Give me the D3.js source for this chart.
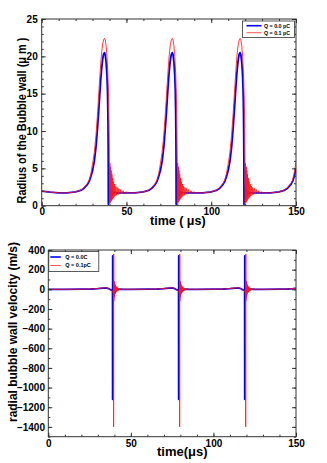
<!DOCTYPE html>
<html><head><meta charset="utf-8">
<script src="https://cdn.jsdelivr.net/npm/d3@7"></script>
<style>
body{margin:0;background:#fff}
svg{display:block}
text{font-family:"Liberation Sans",Arial,Helvetica,sans-serif;font-weight:bold;fill:#000}
</style>
</head><body>
<svg id="c" width="327" height="463"></svg>
<script>
// ---------- Top panel: radius of the bubble wall (µm) ----------
const radiusTimeQ00 = [
  0,5,10,15,20,23,25,27,28,29,30,31,32,33,34,34.5,35,35.5,36,36.5,37,37.5,38,38.5,38.8,39.0,39.15,39.25,39.32,
  39.4,39.5,39.65,39.8,40.0,40.2,40.45,40.7,41.0,41.4,41.8,42.3,43,44,46,
  50,55,60,63,65,67,68,69,70,71,72,73,74,74.5,75,75.5,76,76.5,77,77.5,78,78.5,78.8,79.0,79.15,79.25,79.32,
  79.4,79.5,79.65,79.8,80.0,80.2,80.45,80.7,81.0,81.4,81.8,82.3,83,84,86,
  90,95,100,103,105,107,108,109,110,111,112,113,114,114.5,115,115.5,116,116.5,117,117.5,118,118.5,118.8,119.0,119.15,119.25,119.32,
  119.4,119.5,119.65,119.8,120.0,120.2,120.45,120.7,121.0,121.4,121.8,122.3,123,124,126,
  130,135,140,143,145,147,148,149,150
];
const radiusQ00 = [
  1.95,1.82,1.72,1.72,1.84,2.05,2.35,2.85,3.25,3.9,4.7,5.9,7.8,10.6,14.0,15.8,17.4,18.7,19.7,20.3,20.5,20.2,19.2,17.4,15.4,13.0,10.0,6.5,0.2,
  2.8,0.6,2.5,0.8,2.3,1.0,2.1,1.2,2.0,1.4,1.9,1.55,1.8,1.7,1.74,
  1.72,1.72,1.84,2.05,2.35,2.85,3.25,3.9,4.7,5.9,7.8,10.6,14.0,15.8,17.4,18.7,19.7,20.3,20.5,20.2,19.2,17.4,15.4,13.0,10.0,6.5,0.2,
  2.8,0.6,2.5,0.8,2.3,1.0,2.1,1.2,2.0,1.4,1.9,1.55,1.8,1.7,1.74,
  1.72,1.72,1.84,2.05,2.35,2.85,3.25,3.9,4.7,5.9,7.8,10.6,14.0,15.8,17.4,18.7,19.7,20.3,20.5,20.2,19.2,17.4,15.4,13.0,10.0,6.5,0.2,
  2.8,0.6,2.5,0.8,2.3,1.0,2.1,1.2,2.0,1.4,1.9,1.55,1.8,1.7,1.74,
  1.72,1.72,1.84,2.05,2.35,2.85,3.25,3.9,5.0
];
const radiusTimeQ01 = [
  0,5,10,15,20,23,25,27,28,29,30,31,32,33,34,34.5,35,35.5,36,36.5,37,37.5,38,38.5,39,39.4,39.7,39.85,39.95,40.0,
  40.2,40.4,40.6,40.8,41.0,41.2,41.4,41.65,41.9,42.15,42.4,42.7,43.0,43.35,43.7,44.1,44.5,45.0,45.5,46.0,46.6,47.3,48.0,48.8,49.6,
  51,55,60,63,65,67,68,69,70,71,72,73,74,74.5,75,75.5,76,76.5,77,77.5,78,78.5,79,79.4,79.7,79.85,79.95,80.0,
  80.2,80.4,80.6,80.8,81.0,81.2,81.4,81.65,81.9,82.15,82.4,82.7,83.0,83.35,83.7,84.1,84.5,85.0,85.5,86.0,86.6,87.3,88.0,88.8,89.6,
  91,95,100,103,105,107,108,109,110,111,112,113,114,114.5,115,115.5,116,116.5,117,117.5,118,118.5,119,119.4,119.7,119.85,119.95,120.0,
  120.2,120.4,120.6,120.8,121.0,121.2,121.4,121.65,121.9,122.15,122.4,122.7,123.0,123.35,123.7,124.1,124.5,125.0,125.5,126.0,126.6,127.3,128.0,128.8,129.6,
  131,135,140,143,145,147,148,149,150
];
const radiusQ01 = [
  1.95,1.82,1.72,1.72,1.85,2.08,2.42,2.98,3.45,4.3,5.6,7.1,9.4,12.6,16.2,18.0,19.6,20.8,21.7,22.2,22.4,22.2,21.4,20.0,17.8,15.0,11.5,8.5,5.0,0.3,
  5.7,0.4,5.2,0.55,4.7,0.7,4.2,0.85,3.7,1.0,3.2,1.15,2.9,1.3,2.6,1.4,2.45,1.5,2.3,1.55,2.15,1.6,2.0,1.65,1.85,
  1.72,1.72,1.85,2.08,2.42,2.98,3.45,4.3,5.6,7.1,9.4,12.6,16.2,18.0,19.6,20.8,21.7,22.2,22.4,22.2,21.4,20.0,17.8,15.0,11.5,8.5,5.0,0.3,
  5.7,0.4,5.2,0.55,4.7,0.7,4.2,0.85,3.7,1.0,3.2,1.15,2.9,1.3,2.6,1.4,2.45,1.5,2.3,1.55,2.15,1.6,2.0,1.65,1.85,
  1.72,1.72,1.85,2.08,2.42,2.98,3.45,4.3,5.6,7.1,9.4,12.6,16.2,18.0,19.6,20.8,21.7,22.2,22.4,22.2,21.4,20.0,17.8,15.0,11.5,8.5,5.0,0.3,
  5.7,0.4,5.2,0.55,4.7,0.7,4.2,0.85,3.7,1.0,3.2,1.15,2.9,1.3,2.6,1.4,2.45,1.5,2.3,1.55,2.15,1.6,2.0,1.65,1.85,
  1.72,1.72,1.85,2.08,2.42,2.98,3.45,4.5,5.8
];
const radiusXTicks = [0,50,100,150];
const radiusYTicks = [0,5,10,15,20,25];
const radiusLegend = ["Q = 0.0 pC","Q = 0.1 pC"];

// ---------- Bottom panel: radial bubble wall velocity (m/s) ----------
const velTimeQ00 = [
  0,10,20,26,30,33,35,36.5,37.5,38.3,38.9,38.95,39.0,39.05,39.15,39.25,39.35,39.4,39.45,39.5,39.6,39.7,39.8,39.9,40.0,40.15,40.3,40.45,40.6,40.8,41.0,41.25,41.5,41.8,42.1,42.5,43.0,43.6,44.3,45.2,50,
  60,66,70,73,75,76.5,77.5,78.3,78.9,78.95,79.0,79.05,79.15,79.25,79.35,79.4,79.45,79.5,79.6,79.7,79.8,79.9,80.0,80.15,80.3,80.45,80.6,80.8,81.0,81.25,81.5,81.8,82.1,82.5,83.0,83.6,84.3,85.2,90,
  100,106,110,113,115,116.5,117.5,118.3,118.9,118.95,119.0,119.05,119.15,119.25,119.35,119.4,119.45,119.5,119.6,119.7,119.8,119.9,120.0,120.15,120.3,120.45,120.6,120.8,121.0,121.25,121.5,121.8,122.1,122.5,123.0,123.6,124.3,125.2,130,
  140,145,148,150
];
const velQ00 = [
  0,0,1,3,7,12,14,8,-3,-8,-15,-1120,340,-160,90,-100,75,-80,65,-60,55,-45,40,-35,30,-25,22,-18,15,-12,10,-8,6,-5,4,-3,2,-1,1,0,0,
  1,3,7,12,14,8,-3,-8,-15,-1120,340,-160,90,-100,75,-80,65,-60,55,-45,40,-35,30,-25,22,-18,15,-12,10,-8,6,-5,4,-3,2,-1,1,0,0,
  1,3,7,12,14,8,-3,-8,-15,-1120,340,-160,90,-100,75,-80,65,-60,55,-45,40,-35,30,-25,22,-18,15,-12,10,-8,6,-5,4,-3,2,-1,1,0,0,
  1,3,6,9
];
const velTimeQ01 = [
  0,10,20,26,30,33,35,36.5,37.5,38.3,38.9,39.1,39.3,39.45,39.55,39.6,39.7,39.8,39.9,40.0,40.1,40.25,40.4,40.55,40.7,40.9,41.1,41.35,41.6,41.9,42.2,42.6,43.0,43.5,44.0,44.6,45.3,46.2,50,
  60,66,70,73,75,76.5,77.5,78.3,78.9,79.1,79.3,79.45,79.55,79.6,79.7,79.8,79.9,80.0,80.1,80.25,80.4,80.55,80.7,80.9,81.1,81.35,81.6,81.9,82.2,82.6,83.0,83.5,84.0,84.6,85.3,86.2,90,
  100,106,110,113,115,116.5,117.5,118.3,118.9,119.1,119.3,119.45,119.55,119.6,119.7,119.8,119.9,120.0,120.1,120.25,120.4,120.55,120.7,120.9,121.1,121.35,121.6,121.9,122.2,122.6,123.0,123.5,124.0,124.6,125.3,126.2,130,
  140,145,148,150
];
const velQ01 = [
  0,0,1,3,8,14,16,9,-3,-9,-16,-25,-40,-70,-1400,360,-120,85,-80,70,-65,55,-50,45,-40,35,-30,25,-20,16,-13,10,-8,6,-4,3,-2,1,0,
  1,3,8,14,16,9,-3,-9,-16,-25,-40,-70,-1400,360,-120,85,-80,70,-65,55,-50,45,-40,35,-30,25,-20,16,-13,10,-8,6,-4,3,-2,1,0,
  1,3,8,14,16,9,-3,-9,-16,-25,-40,-70,-1400,360,-120,85,-80,70,-65,55,-50,45,-40,35,-30,25,-20,16,-13,10,-8,6,-4,3,-2,1,0,
  1,3,7,10
];
const velXTicks = [0,50,100,150];
const velYTicks = [400,200,0,-200,-400,-600,-800,-1000,-1200,-1400];
const velLegend = ["Q = 0.0C","Q = 0.1pC"];

const BLUE = "#0000ff", RED = "#ff1a1a", AXIS = "#333";
const svg = d3.select("#c");

function panel(o) {
  const x = d3.scaleLinear().domain(o.xDomain).range([o.left, o.right]);
  const y = d3.scaleLinear().domain(o.yDomain).range([o.bottom, o.top]);
  const g = svg.append("g");
  const id = "clip" + o.name;
  svg.append("clipPath").attr("id", id).append("rect")
    .attr("x", o.left).attr("y", o.top).attr("width", o.right - o.left).attr("height", o.bottom - o.top);

  const line = d3.line().x(d => x(d[0])).y(d => y(d[1]));
  const plot = g.append("g").attr("clip-path", `url(#${id})`);
  plot.append("path").datum(d3.zip(o.t1, o.s1)).attr("d", line)
    .attr("fill", "none").attr("stroke", BLUE).attr("stroke-width", 1.8).attr("stroke-linejoin", "round");
  plot.append("path").datum(d3.zip(o.t2, o.s2)).attr("d", line)
    .attr("fill", "none").attr("stroke", RED).attr("stroke-width", 1).attr("stroke-opacity", 0.85).attr("stroke-linejoin", "round");

  const styleAxis = sel => { sel.select(".domain").remove(); sel.selectAll("line").attr("stroke", AXIS); };
  const minorX = d3.range(o.xDomain[0], o.xDomain[1] + 1e-9, o.xMinor);
  const minorY = d3.range(o.yDomain[0], o.yDomain[1] + 1e-9, o.yMinor);
  g.append("g").attr("transform", `translate(0,${o.bottom})`).call(d3.axisBottom(x).tickValues(minorX).tickSize(-2).tickFormat("")).call(styleAxis);
  g.append("g").attr("transform", `translate(0,${o.top})`).call(d3.axisTop(x).tickValues(minorX).tickSize(-2).tickFormat("")).call(styleAxis);
  g.append("g").attr("transform", `translate(${o.left},0)`).call(d3.axisLeft(y).tickValues(minorY).tickSize(-2).tickFormat("")).call(styleAxis);
  g.append("g").attr("transform", `translate(${o.right},0)`).call(d3.axisRight(y).tickValues(minorY).tickSize(-2).tickFormat("")).call(styleAxis);
  const xb = g.append("g").attr("transform", `translate(0,${o.bottom})`)
    .call(d3.axisBottom(x).tickValues(o.xTicks).tickSize(-4).tickPadding(o.xPad).tickFormat(d3.format("d"))).call(styleAxis);
  const yl = g.append("g").attr("transform", `translate(${o.left},0)`)
    .call(d3.axisLeft(y).tickValues(o.yTicks).tickSize(-4).tickPadding(o.yPad).tickFormat(d => d < 0 ? "\u2212" + Math.abs(d) : d)).call(styleAxis);
  g.append("g").attr("transform", `translate(0,${o.top})`).call(d3.axisTop(x).tickValues(o.xTicks).tickSize(-4).tickFormat("")).call(styleAxis);
  g.append("g").attr("transform", `translate(${o.right},0)`).call(d3.axisRight(y).tickValues(o.yTicks).tickSize(-4).tickFormat("")).call(styleAxis);
  [xb, yl].forEach(a => a.selectAll("text").attr("font-size", o.tickFont).attr("font-family", null).style("fill", "#000"));

  g.append("rect").attr("x", o.left).attr("y", o.top).attr("width", o.right - o.left).attr("height", o.bottom - o.top)
    .attr("fill", "none").attr("stroke", AXIS).attr("stroke-width", 1);

  const L = o.legend;
  const lg = g.append("g");
  lg.append("rect").attr("x", L.x).attr("y", L.y).attr("width", L.w).attr("height", L.h)
    .attr("fill", "#fff").attr("stroke", AXIS).attr("stroke-width", 0.8);
  [BLUE, RED].forEach((c, i) => {
    const yy = L.y + L.row0 + i * L.dy;
    lg.append("line").attr("x1", L.x + L.lx0).attr("x2", L.x + L.lx1).attr("y1", yy).attr("y2", yy)
      .attr("stroke", c).attr("stroke-width", i === 0 ? 1.6 : 1).attr("stroke-opacity", i === 0 ? 1 : 0.75);
    lg.append("text").attr("x", L.x + L.tx).attr("y", yy).attr("dy", "0.35em")
      .attr("font-size", L.font).text(o.names[i]);
  });
  return {x, y};
}

panel({
  name: "top", left: 41.7, right: 296, top: 19, bottom: 205.7,
  xDomain: [0,150], yDomain: [0,25], xTicks: radiusXTicks, yTicks: radiusYTicks,
  xMinor: 10, yMinor: 1, xPad: 2.5, yPad: 4, tickFont: "10px",
  t1: radiusTimeQ00, s1: radiusQ00, t2: radiusTimeQ01, s2: radiusQ01, names: radiusLegend,
  legend: {x: 242.5, y: 21, w: 52, h: 16.5, row0: 4.7, dy: 7, lx0: 4, lx1: 19, tx: 21.5, font: "5.3px"}
});
panel({
  name: "bot", left: 48.3, right: 296, top: 250, bottom: 436.7,
  xDomain: [0,150], yDomain: [-1500,400], xTicks: velXTicks, yTicks: velYTicks,
  xMinor: 10, yMinor: 100, xPad: 3, yPad: 3.3, tickFont: "10px",
  t1: velTimeQ00, s1: velQ00, t2: velTimeQ01, s2: velQ01, names: velLegend,
  legend: {x: 48.8, y: 251.5, w: 50, h: 20, row0: 5.5, dy: 8.5, lx0: 1.5, lx1: 12, tx: 16.5, font: "5.5px"}
});

svg.append("text").attr("x", 150).attr("y", 224.5).attr("font-size", "12.5px").text("time ( \u03bcs)");
svg.append("text").attr("transform", "translate(25.5,120.5) rotate(-90)").attr("text-anchor", "middle")
  .attr("font-size", "12.5px").attr("textLength", 166).attr("lengthAdjust", "spacingAndGlyphs")
  .text("Radius of the Bubble wall  (\u03bc m )");
svg.append("text").attr("x", 157).attr("y", 456).attr("font-size", "13px").text("time(\u03bcs)");
svg.append("text").attr("transform", "translate(16.5,332) rotate(-90)").attr("text-anchor", "middle")
  .attr("font-size", "12px").attr("textLength", 180).attr("lengthAdjust", "spacingAndGlyphs")
  .text("radial bubble wall velocity (m/s)");
</script>
</body></html>
